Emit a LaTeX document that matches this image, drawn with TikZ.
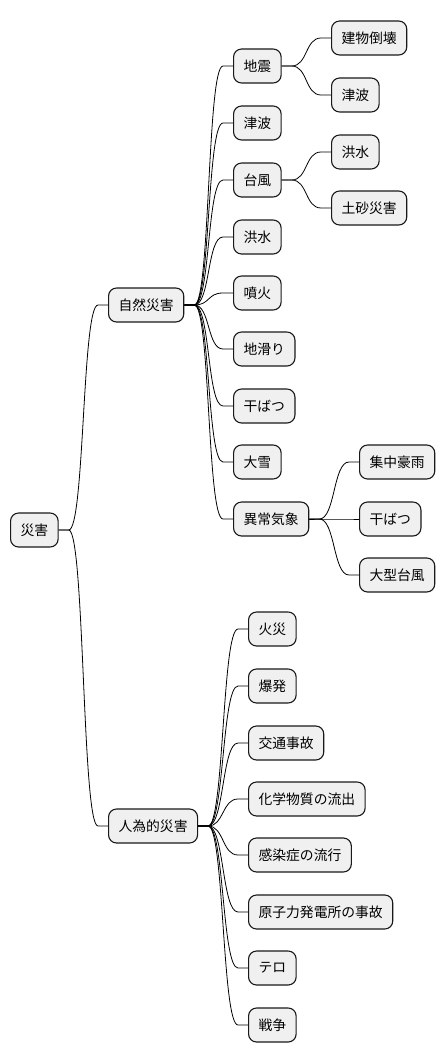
\documentclass[tikz,border=0pt]{standalone}
\usepackage{fontspec}
\setmainfont{Noto Sans CJK JP}
\usetikzlibrary{positioning}
\tikzset{
  topic/.style={draw=black!90, line width=1.1pt, fill=black!6, rounded corners=8pt,
    anchor=west, minimum height=34pt, inner xsep=10pt, inner ysep=0pt,
    font=\fontsize{13.8pt}{14pt}\selectfont},
  link/.style={line width=0.8pt, to path={(\tikztostart) -- ++(10pt,0)
    .. controls +(16pt,0) and ([xshift=-26pt]\tikztotarget) .. ([xshift=-10pt]\tikztotarget)
    -- (\tikztotarget)}}
}
\begin{document}
\begin{tikzpicture}[x=1pt,y=-1pt]
    \useasboundingbox (0,0) rectangle (446,1062);
    % root
    \node[topic] (root) at (10,530) {災害};
    % first level
    \node[topic] (nat) at (108,305) {自然災害};
    \node[topic] (hum) at (108,826) {人為的災害};
    % natural disasters
    \node[topic] (n1) at (233,66) {地震};
    \node[topic] (n2) at (233,123) {津波};
    \node[topic] (n3) at (233,180) {台風};
    \node[topic] (n4) at (233,237) {洪水};
    \node[topic] (n5) at (233,293) {噴火};
    \node[topic] (n6) at (233,349) {地滑り};
    \node[topic] (n7) at (233,406) {干ばつ};
    \node[topic] (n8) at (233,462) {大雪};
    \node[topic] (n9) at (233,519) {異常気象};
    % third level
    \node[topic] (n1a) at (331,38) {建物倒壊};
    \node[topic] (n1b) at (331,95) {津波};
    \node[topic] (n3a) at (331,152) {洪水};
    \node[topic] (n3b) at (331,208) {土砂災害};
    \node[topic] (n9a) at (359,462) {集中豪雨};
    \node[topic] (n9b) at (359,519) {干ばつ};
    \node[topic] (n9c) at (359,575) {大型台風};
    % man-made disasters
    \node[topic] (h1) at (248,629) {火災};
    \node[topic] (h2) at (248,686) {爆発};
    \node[topic] (h3) at (248,743) {交通事故};
    \node[topic] (h4) at (248,799) {化学物質の流出};
    \node[topic] (h5) at (248,855) {感染症の流行};
    \node[topic] (h6) at (248,912) {原子力発電所の事故};
    \node[topic] (h7) at (248,968) {テロ};
    \node[topic] (h8) at (248,1025) {戦争};
    % branches
    \draw[link] (root.east) to (nat.west);
    \draw[link] (root.east) to (hum.west);
    \foreach \c in {n1,n2,n3,n4,n5,n6,n7,n8,n9}
      \draw[link] (nat.east) to (\c.west);
    \foreach \c in {n1a,n1b}
      \draw[link] (n1.east) to (\c.west);
    \foreach \c in {n3a,n3b}
      \draw[link] (n3.east) to (\c.west);
    \foreach \c in {n9a,n9b,n9c}
      \draw[link] (n9.east) to (\c.west);
    \foreach \c in {h1,h2,h3,h4,h5,h6,h7,h8}
      \draw[link] (hum.east) to (\c.west);
\end{tikzpicture}
\end{document}
